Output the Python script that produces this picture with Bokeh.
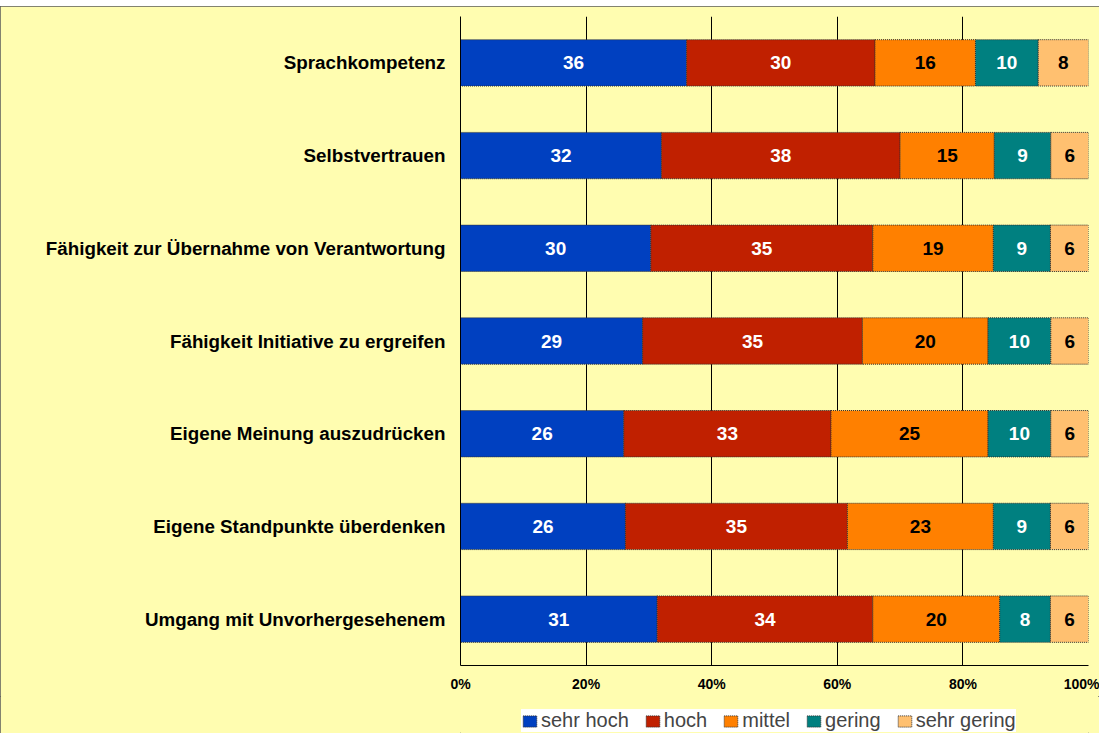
from bokeh.plotting import figure
from bokeh.models import (FactorRange, Range1d, FixedTicker, NumeralTickFormatter,
                          ColumnDataSource, Legend, LegendItem, Spacer)
from bokeh.layouts import column
from bokeh.core.properties import value
from bokeh.embed import file_html
from bokeh.resources import INLINE

categories = [
    "Sprachkompetenz",
    "Selbstvertrauen",
    "Fähigkeit zur Übernahme von Verantwortung",
    "Fähigkeit Initiative zu ergreifen",
    "Eigene Meinung auszudrücken",
    "Eigene Standpunkte überdenken",
    "Umgang mit Unvorhergesehenem",
]
series_names = ["sehr hoch", "hoch", "mittel", "gering", "sehr gering"]
sehr_hoch = [36, 32, 30, 29, 26, 26, 31]
hoch = [30, 38, 35, 35, 33, 35, 34]
mittel = [16, 15, 19, 20, 25, 23, 20]
gering = [10, 9, 9, 10, 10, 9, 8]
sehr_gering = [8, 6, 6, 6, 6, 6, 6]
x_ticks = [0, 0.2, 0.4, 0.6, 0.8, 1.0]

colors = ["#0040C0", "#C02000", "#FF8000", "#008080", "#FFC070"]
label_colors = ["white", "white", "black", "white", "black"]
BG = "#FFFDB0"
FONT = "Liberation Sans"
OUTLINE = "#303030"

series = [sehr_hoch, hoch, mittel, gering, sehr_gering]
totals = [sum(s[i] for s in series) for i in range(len(categories))]

data = {"cat": categories}
keys = []
for k, (name, vals) in enumerate(zip(series_names, series)):
    key = "s%d" % k
    keys.append(key)
    data[key] = [v / t for v, t in zip(vals, totals)]
source = ColumnDataSource(data)

W = 1099
H1, H2 = 690, 37
p = figure(width=W, height=H1, output_backend="svg", toolbar_location=None,
           y_range=FactorRange(factors=list(reversed(categories)), range_padding=0),
           x_range=Range1d(0, 1),
           min_border_left=460, min_border_right=11, min_border_top=10,
           min_border_bottom=31)
p.background_fill_color = BG
p.border_fill_color = BG
p.outline_line_color = None

rs = p.hbar_stack(keys, y="cat", height=0.5, source=source, color=colors,
                  line_color=OUTLINE, line_width=1, line_dash="1 1")

# value labels
for k, vals in enumerate(series):
    xs, ys, ts = [], [], []
    for i, c in enumerate(categories):
        start = sum(data[keys[j]][i] for j in range(k))
        xs.append(start + data[keys[k]][i] / 2)
        ys.append(c)
        ts.append(str(vals[i]))
    p.text(x=xs, y=ys, text=ts, text_align="center", text_baseline="middle",
           text_color=label_colors[k], text_font=value(FONT),
           text_font_style="bold", text_font_size="19px")

p.xgrid.grid_line_color = "black"
p.xgrid.grid_line_width = 1
p.ygrid.grid_line_color = None
p.xaxis.ticker = FixedTicker(ticks=x_ticks)
p.xaxis.formatter = NumeralTickFormatter(format="0%")
p.xaxis.axis_line_color = "black"
p.xaxis.major_tick_line_color = None
p.xaxis.minor_tick_line_color = None
p.xaxis.major_tick_out = 0
p.xaxis.major_label_standoff = 10
p.xaxis.major_label_text_font = FONT
p.xaxis.major_label_text_font_style = "bold"
p.xaxis.major_label_text_font_size = "14px"
p.xaxis.major_label_text_color = "black"

p.yaxis.axis_line_color = "black"
p.yaxis.major_tick_line_color = None
p.yaxis.minor_tick_line_color = None
p.yaxis.major_tick_out = 0
p.yaxis.major_label_standoff = 15
p.yaxis.major_label_text_font = FONT
p.yaxis.major_label_text_font_style = "bold"
p.yaxis.major_label_text_font_size = "18.8px"
p.yaxis.major_label_text_color = "black"

# legend panel (frame is aligned with the main plot's frame by the column layout)
p2 = figure(width=W, height=H2, output_backend="svg", toolbar_location=None,
            x_range=Range1d(0, 1), y_range=Range1d(0, 1),
            min_border_left=460, min_border_right=11, min_border_top=0,
            min_border_bottom=0)
p2.axis.visible = False
p2.grid.visible = False
p2.background_fill_color = BG
p2.border_fill_color = BG
p2.outline_line_color = None
items = []
for n, c in zip(series_names, colors):
    r = p2.rect(x=[-5], y=[-5], width=0.1, height=0.1, fill_color=c,
                line_color=OUTLINE, line_width=1, line_dash="1 1")
    items.append(LegendItem(label=n, renderers=[r]))
legend = Legend(items=items, orientation="horizontal", location=(61, 1),
                background_fill_color="white", background_fill_alpha=1,
                border_line_color=None, label_text_font=FONT,
                label_text_font_size="20px", glyph_width=17, glyph_height=14,
                label_standoff=3, spacing=15, padding=5, margin=0)
p2.add_layout(legend)

chart = column(p, p2, styles={"outline": "1px solid #5a5a5a", "outline-offset": "-1px",
                              "background-color": BG})
layout = column(Spacer(height=6, width=W), chart)
open("out.html", "w").write(file_html(layout, INLINE))
